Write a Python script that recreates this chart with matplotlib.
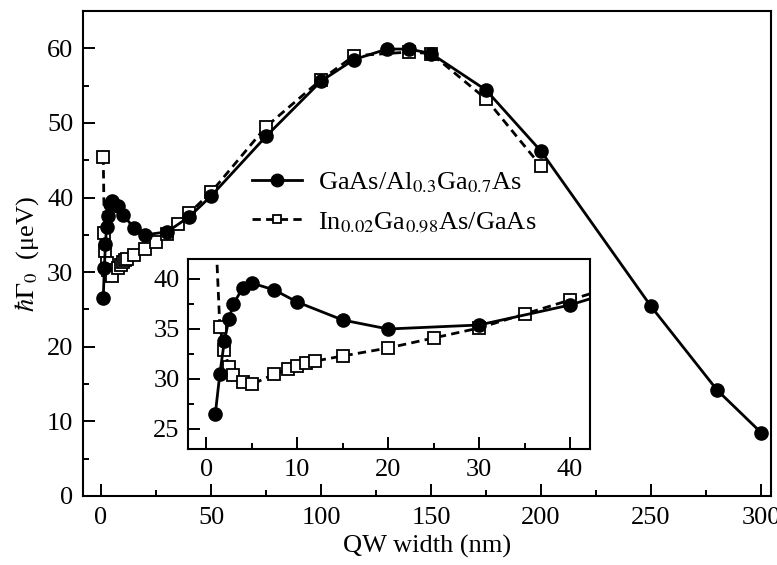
import matplotlib
matplotlib.use("Agg")
import matplotlib.pyplot as plt
from matplotlib.lines import Line2D

plt.rcParams['font.family'] = ['Liberation Serif', 'DejaVu Serif']
plt.rcParams['mathtext.fontset'] = 'stix'

# GaAs/Al0.3Ga0.7As
gaas_x = [1, 1.5, 2, 2.5, 3, 4, 5, 7.5, 10, 15, 20, 30, 40, 50, 75, 100, 115, 130, 140, 150, 175, 200, 250, 280, 300]
gaas_y = [26.5, 30.5, 33.8, 36.0, 37.5, 39.1, 39.6, 38.9, 37.7, 35.9, 35.0, 35.4, 37.4, 40.2, 48.2, 55.6, 58.5, 59.9, 59.9, 59.3, 54.4, 46.2, 25.4, 14.2, 8.5]

# In0.02Ga0.98As/GaAs
ingaas_x = [1, 1.5, 2, 2.5, 3, 4, 5, 7.5, 9, 10, 11, 12, 15, 20, 25, 30, 35, 40, 50, 75, 100, 115, 140, 150, 175, 200]
ingaas_y = [45.5, 35.2, 32.9, 31.2, 30.35, 29.65, 29.45, 30.5, 31.0, 31.3, 31.6, 31.8, 32.3, 33.1, 34.1, 35.1, 36.5, 37.9, 40.7, 49.5, 55.8, 59.0, 59.5, 59.3, 53.2, 44.2]

labels = [r'GaAs/Al$_{0.3}$Ga$_{0.7}$As', r'In$_{0.02}$Ga$_{0.98}$As/GaAs']
main_xticks = [0, 50, 100, 150, 200, 250, 300]
main_yticks = [0, 10, 20, 30, 40, 50, 60]
inset_xticks = [0, 10, 20, 30, 40]
inset_yticks = [25, 30, 35, 40]

W, H = 777, 565
fig = plt.figure(figsize=(W / 100, H / 100), dpi=100)

def rect(l, t, r, b):
    return [l / W, 1 - b / H, (r - l) / W, (b - t) / H]

ax = fig.add_axes(rect(83, 11, 771, 496))
axi = fig.add_axes(rect(188, 259, 590, 449))

dash = (0, (3.0, 1.9))
lw = 2.0
fs = 19

def draw(a, msq, mc):
    a.plot(ingaas_x, ingaas_y, color='black', lw=lw, linestyle=dash,
           marker='s', markersize=msq, markerfacecolor='white',
           markeredgecolor='black', markeredgewidth=1.3, zorder=2)
    a.plot(gaas_x, gaas_y, color='black', lw=lw, linestyle='-',
           marker='o', markersize=mc, markerfacecolor='black',
           markeredgecolor='black', zorder=3)

draw(ax, 8.5, 9.5)
draw(axi, 8.5, 9.5)

for a in (ax, axi):
    for s in a.spines.values():
        s.set_linewidth(1.5)
    a.tick_params(which='both', direction='in', top=False, right=False,
                  labelsize=fs, width=1.4)
    a.tick_params(which='major', length=8.5)
    a.tick_params(which='minor', length=4.5)

ax.set_xlim(-8.2, 304.5)
ax.set_ylim(0, 65)
ax.set_xticks(main_xticks)
ax.set_xticks([25, 75, 125, 175, 225, 275], minor=True)
ax.set_yticks(main_yticks)
ax.set_yticks([5, 15, 25, 35, 45, 55], minor=True)
ax.set_xticklabels([str(v) for v in main_xticks])
ax.set_yticklabels([str(v) for v in main_yticks])
ax.tick_params(axis='x', which='major', pad=8)
ax.tick_params(axis='y', which='major', pad=7)

axi.set_xlim(-2, 42.2)
axi.set_ylim(23, 42)
axi.set_xticks(inset_xticks)
axi.set_xticks([5, 15, 25, 35], minor=True)
axi.set_yticks(inset_yticks)
axi.set_yticks([27.5, 32.5, 37.5], minor=True)
axi.set_xticklabels([str(v) for v in inset_xticks])
axi.set_yticklabels([str(v) for v in inset_yticks])
axi.tick_params(axis='x', which='major', pad=7)
axi.tick_params(axis='y', which='major', pad=6)

ax.set_xlabel('QW width (nm)', fontsize=fs, labelpad=4)
ax.set_ylabel(r'$\hbar\Gamma_0$  (μeV)', fontsize=fs, labelpad=4)

handles = [
    Line2D([], [], color='black', lw=lw, marker='o', markersize=9),
    Line2D([], [], color='black', lw=lw, linestyle=dash, marker='s',
           markersize=6, markerfacecolor='white', markeredgewidth=1.3),
]
ax.legend(handles, labels, loc='upper left', bbox_to_anchor=(0.23, 0.693),
          frameon=False, fontsize=fs, handlelength=1.9, handletextpad=0.6,
          labelspacing=0.55, borderaxespad=0)

fig.savefig('out.png', dpi=100)
